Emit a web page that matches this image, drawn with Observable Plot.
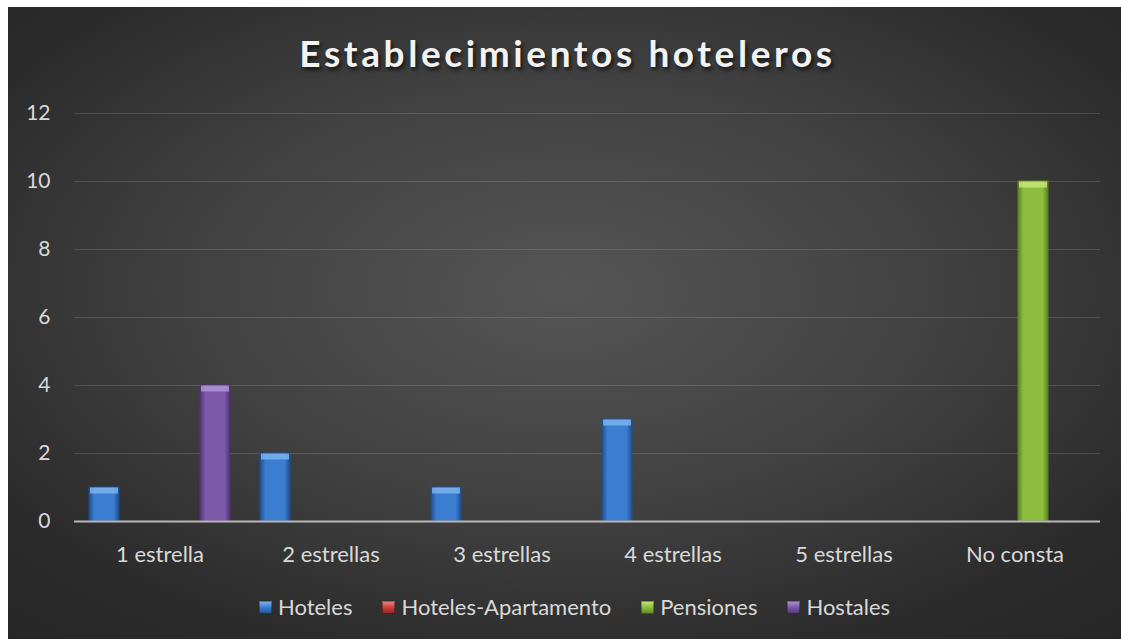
<!DOCTYPE html>
<html>
<head>
<meta charset="utf-8">
<script src="https://cdn.jsdelivr.net/npm/d3@7"></script>
<script src="https://cdn.jsdelivr.net/npm/@observablehq/plot@0.6"></script>
<style>
  html, body { margin: 0; padding: 0; background: #ffffff; }
  #frame {
    position: absolute; left: 8px; top: 7px; width: 1113px; height: 632px; overflow: hidden;
    background: radial-gradient(ellipse 75% 75% at 50% 45%, #555555 0%, #414141 45%, #2b2b2b 80%, #262626 100%);
    font-family: Lato, "Open Sans", sans-serif;
  }
  #title {
    position: absolute; left: 3px; width: 100%; top: 27px; text-align: center;
    font-size: 37px; line-height: 1; font-weight: bold; letter-spacing: 3.6px;
    color: #f2f2f2; text-shadow: 2px 3px 4px rgba(0,0,0,0.7);
  }
  #chart { position: absolute; left: 0; top: 80px; }
  #legend {
    position: absolute; left: 10px; width: 100%; top: 589px; display: flex; justify-content: center;
    font-size: 22px; line-height: 1; color: #d9d9d9;
  }
  .item { display: flex; align-items: center; margin: 0 15px; }
  .sw { width: 13px; height: 13px; margin-right: 6px; box-shadow: inset 0 0 0 1px rgba(0,0,0,0.35); }
</style>
</head>
<body>
<svg width="0" height="0" style="position:absolute">
  <defs id="defs"></defs>
</svg>
<div id="frame">
  <div id="title">Establecimientos hoteleros</div>
  <div id="chart"></div>
  <div id="legend"></div>
</div>
<script>
const categories = ["1 estrella", "2 estrellas", "3 estrellas", "4 estrellas", "5 estrellas", "No consta"];
const series = ["Hoteles", "Hoteles-Apartamento", "Pensiones", "Hostales"];
const hoteles = [1, 2, 1, 3, 0, 0];
const hotelesApartamento = [0, 0, 0, 0, 0, 0];
const pensiones = [0, 0, 0, 0, 0, 10];
const hostales = [4, 0, 0, 0, 0, 0];
const yTicks = [0, 2, 4, 6, 8, 10, 12];

const baseColors = ["#3b7dd0", "#c9403c", "#8dbd3f", "#7d58a8"];
const edgeColors = ["#1f4f8f", "#8a2320", "#5c8523", "#4f3474"];
const topColors = ["#7fb6f2", "#ee8a86", "#c8e87a", "#b398d8"];

// gradients
const defs = document.getElementById("defs");
const ns = "http://www.w3.org/2000/svg";
series.forEach((s, i) => {
  const g = document.createElementNS(ns, "linearGradient");
  g.setAttribute("id", "grad" + i);
  g.setAttribute("x1", "0"); g.setAttribute("x2", "1"); g.setAttribute("y1", "0"); g.setAttribute("y2", "0");
  [[0, edgeColors[i]], [0.18, baseColors[i]], [0.82, baseColors[i]], [1, edgeColors[i]]].forEach(([o, c]) => {
    const st = document.createElementNS(ns, "stop");
    st.setAttribute("offset", o); st.setAttribute("stop-color", c);
    g.appendChild(st);
  });
  defs.appendChild(g);
});

const valuesBySeries = [hoteles, hotelesApartamento, pensiones, hostales];
const data = [];
categories.forEach((c, ci) => {
  series.forEach((s, si) => {
    data.push({cat: c, series: s, value: valuesBySeries[si][ci], fill: `url(#grad${si})`, top: topColors[si], edge: edgeColors[si]});
  });
});
const nonzero = data.filter(d => d.value > 0);
const grid = categories.flatMap(c => yTicks.filter(t => t > 0).map(t => ({cat: c, y: t})));
const base = categories.map(c => ({cat: c, y: 0}));

const chart = Plot.plot({
  width: 1113,
  height: 500,
  marginLeft: 65,
  marginRight: 21,
  marginTop: 26,
  marginBottom: 66,
  style: {fontFamily: "Lato, 'Open Sans', sans-serif", fontSize: "22px", color: "#d9d9d9", background: "transparent", overflow: "visible"},
  fx: {domain: categories, padding: 0, label: null, tickSize: 0, tickPadding: 25},
  x: {domain: series, paddingInner: 0.18, paddingOuter: 0.385, axis: null},
  y: {domain: [0, 12], axis: null},
  color: {type: "identity"},
  marks: [
    Plot.axisY(yTicks, {tickSize: 0, tickPadding: 24, label: null, tickFormat: d => String(d), facetAnchor: "left", fontSize: 21}),
    Plot.ruleY(grid, {fx: "cat", y: "y", stroke: "#ffffff", strokeOpacity: 0.13, strokeWidth: 1}),
    Plot.barY(nonzero, {fx: "cat", x: "series", y: "value", fill: "fill", stroke: "edge", strokeWidth: 1}),
    Plot.tickY(nonzero, {fx: "cat", x: "series", y: "value", stroke: "top", strokeWidth: 6, dy: 3, strokeOpacity: 0.8, inset: 1}),
    Plot.ruleY(base, {fx: "cat", y: "y", stroke: "#b8b8b8", strokeWidth: 2})
  ]
});
document.getElementById("chart").appendChild(chart);

const legend = document.getElementById("legend");
series.forEach((s, i) => {
  const it = document.createElement("div");
  it.className = "item";
  const sw = document.createElement("span");
  sw.className = "sw";
  sw.style.background = `linear-gradient(180deg, ${topColors[i]} 0%, ${baseColors[i]} 50%, ${edgeColors[i]} 100%)`;
  const tx = document.createElement("span");
  tx.textContent = s;
  it.appendChild(sw); it.appendChild(tx);
  legend.appendChild(it);
});
</script>
</body>
</html>
